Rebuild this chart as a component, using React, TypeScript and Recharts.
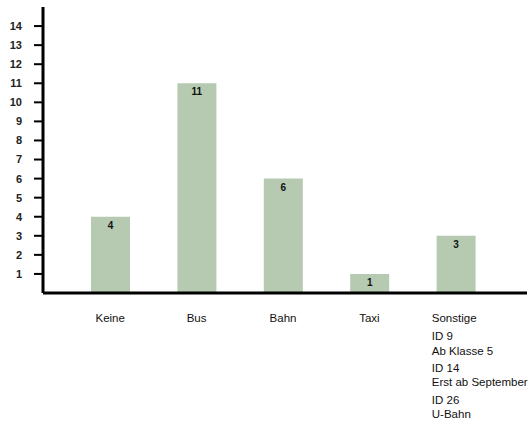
import { BarChart, Bar, XAxis, YAxis, LabelList } from "recharts";

const categories = ["Keine", "Bus", "Bahn", "Taxi", "Sonstige"];
const counts = [4, 11, 6, 1, 3];
const yTicks = [1, 2, 3, 4, 5, 6, 7, 8, 9, 10, 11, 12, 13, 14];
const sonstigeNotes = ["ID 9", "Ab Klasse 5", "ID 14", "Erst ab September", "ID 26", "U-Bahn"];

const data = categories.map((name, i) => ({ name, count: counts[i] }));

const FONT = "'Liberation Sans', Arial, sans-serif";

function CategoryTick(props: any) {
  const { x, y, payload } = props;
  const name = payload.value;
  if (name !== "Sonstige") {
    return (
      <text x={x} y={y + 27} textAnchor="middle" fontSize={11.5} fontFamily={FONT} fill="#111">
        {name}
      </text>
    );
  }
  const offsets = [18, 33, 50, 64, 82, 96];
  return (
    <g>
      <text x={x - 24} y={y + 27} textAnchor="start" fontSize={11.5} fontFamily={FONT} fill="#111">
        {name}
      </text>
      {sonstigeNotes.map((line, i) => (
        <text key={i} x={x - 24} y={y + 27 + offsets[i]} textAnchor="start" fontSize={11.5} fontFamily={FONT} fill="#111">
          {line}
        </text>
      ))}
    </g>
  );
}

export default function App() {
  return (
    <div style={{ position: "absolute", left: 0, top: 0, background: "#fff" }}>
      <BarChart width={532} height={426} data={data} margin={{ top: 7, right: 5, left: 8, bottom: 0 }}>
        <XAxis
          dataKey="name"
          height={133}
          padding={{ left: 24, right: 28 }}
          axisLine={{ stroke: "#000", strokeWidth: 3 }}
          tickLine={false}
          tickSize={0}
          tick={<CategoryTick />}
          interval={0}
        />
        <YAxis
          width={35}
          domain={[0, 15]}
          ticks={yTicks}
          interval={0}
          axisLine={{ stroke: "#000", strokeWidth: 3 }}
          tickLine={{ stroke: "#000", strokeWidth: 2 }}
          tickSize={9}
          tickMargin={12}
          tick={{ fontSize: 11, fontWeight: "bold", fill: "#222", fontFamily: FONT }}
        />
        <Bar dataKey="count" fill="#b5cab1" barSize={39} isAnimationActive={false}>
          <LabelList
            dataKey="count"
            position="insideTop"
            offset={5}
            style={{ fontSize: 10, fontWeight: "bold", fill: "#111", fontFamily: FONT }}
          />
        </Bar>
      </BarChart>
    </div>
  );
}
